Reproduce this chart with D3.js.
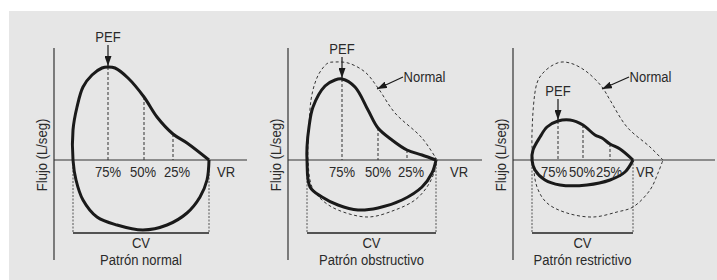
<!DOCTYPE html>
<html>
<head>
<meta charset="utf-8">
<script src="https://cdn.jsdelivr.net/npm/d3@7"></script>
<style>
  body { margin: 0; background: #fff; }
  text { font-family: "Liberation Sans", Arial, sans-serif; fill: #2a2a2a; font-size: 15px; }
</style>
</head>
<body>
<div id="chart"></div>
<script>
// volume (x) / flow (y) loops, start and end at VR
const normalLoop = [
  [7.75, 0], [6.65, 0.85], [5.95, 1.3], [5.15, 2.15], [4.5, 3.15], [3.7, 4.1], [3.05, 4.6],
  [2.7, 4.65], [2.4, 4.6], [1.9, 4.25], [1.45, 3.65], [1.15, 2.65], [0.95, 1.5], [0.95, 0],
  [1.1, -1.0], [1.45, -2.0], [2.15, -2.85], [3.15, -3.25], [4.45, -3.5], [5.65, -3.25],
  [6.65, -2.65], [7.3, -1.85], [7.65, -1.0], [7.75, 0]
];
const obstructiveLoop = [
  [7.4, 0], [6.7, 0.25], [5.95, 0.5], [5.2, 1.0], [4.5, 1.6], [4.0, 2.5], [3.35, 3.65],
  [2.7, 4.05], [2.35, 4.0], [1.85, 3.7], [1.25, 2.65], [1.05, 1.65], [0.95, 0.65], [0.95, 0],
  [1.1, -1.35], [1.7, -1.85], [2.5, -2.25], [3.5, -2.5], [4.5, -2.4], [5.7, -2.0],
  [6.7, -1.35], [7.2, -0.65], [7.4, 0]
];
const obstructiveNormal = [
  [7.45, 0], [6.7, 1.1], [5.35, 2.35], [4.5, 3.6], [3.85, 4.4], [3.0, 4.85], [2.35, 4.9],
  [2.0, 4.85], [1.6, 4.4], [1.35, 3.85], [1.15, 3.0], [1.05, 1.65], [1.0, 0], [1.2, -1.35],
  [1.7, -2.0], [2.5, -2.5], [4.0, -2.85], [5.35, -2.5], [6.35, -2.0], [6.95, -1.35],
  [7.3, -0.65], [7.45, 0]
];
const restrictiveLoop = [
  [6.0, 0], [5.35, 0.55], [4.85, 0.8], [4.45, 1.1], [4.1, 1.25], [3.5, 1.75], [2.85, 2.0],
  [2.25, 1.95], [1.7, 1.65], [1.35, 1.15], [1.0, 0.5], [0.95, 0], [1.1, -0.5], [1.6, -1.0],
  [2.35, -1.25], [3.7, -1.25], [4.85, -1.0], [5.6, -0.6], [6.0, 0]
];
const restrictiveNormal = [
  [7.5, 0], [6.85, 0.65], [5.7, 1.65], [4.85, 3.0], [4.45, 3.65], [3.7, 4.4], [3.0, 4.8],
  [2.45, 4.9], [2.0, 4.75], [1.5, 4.35], [1.2, 3.85], [0.95, 1.35], [1.0, 0], [1.2, -1.35],
  [1.7, -2.15], [2.7, -2.65], [4.0, -2.85], [5.2, -2.6], [6.0, -2.35], [6.85, -1.5],
  [7.25, -0.65], [7.5, 0]
];

const pctLabels = ["75%", "50%", "25%"];
// dashed markers [x, top y] and label x
const normalMarks = [[2.7, 4.65], [4.5, 3.15], [5.95, 1.3]];
const obstructiveMarks = [[2.7, 4.05], [4.5, 1.6], [5.95, 0.5]];
const restrictiveMarks = [[2.25, 1.95], [3.5, 1.75], [4.85, 0.8]];
const normalLabelX = [2.7, 4.45, 6.15];
const obstructiveLabelX = [2.7, 4.5, 6.15];
const restrictiveLabelX = [2.05, 3.45, 4.8];

const titles = ["Patrón normal", "Patrón obstructivo", "Patrón restrictivo"];
const cvBounds = [[0.95, 7.75], [0.95, 7.4], [0.95, 6.0]];
const vrLabelX = [8.6, 8.55, 6.6];
const normalArrow = [null, [5.75, 4.15, 4.45, 3.55], [5.8, 4.15, 4.45, 3.55]];

const yAxisLabel = "Flujo (L/seg)";

const panels = [
  { loop: normalLoop, ref: null, marks: normalMarks, labelX: normalLabelX },
  { loop: obstructiveLoop, ref: obstructiveNormal, marks: obstructiveMarks, labelX: obstructiveLabelX },
  { loop: restrictiveLoop, ref: restrictiveNormal, marks: restrictiveMarks, labelX: restrictiveLabelX }
];

const width = 717, height = 280;
const origins = [54, 288, 513];
const axisEnds = [9.65, 9.7, 10.1];
const squeeze = 0.87; // condensed look

const svg = d3.select("#chart").append("svg")
  .attr("width", width)
  .attr("height", height);

svg.append("rect")
  .attr("x", 9).attr("y", 11)
  .attr("width", width - 9).attr("height", height - 11)
  .attr("fill", "#e6e6e6");

svg.append("defs").append("marker")
  .attr("id", "head")
  .attr("markerUnits", "userSpaceOnUse")
  .attr("viewBox", "0 0 10 7")
  .attr("refX", 10).attr("refY", 3.5)
  .attr("markerWidth", 10).attr("markerHeight", 7)
  .attr("orient", "auto")
  .append("path")
    .attr("d", "M0,0L10,3.5L0,7Z")
    .attr("fill", "#1a1a1a");

function label(g, x, y, str, anchor, rot) {
  return g.append("text")
    .attr("transform", "translate(" + x + "," + y + ")" + (rot ? " rotate(" + rot + ")" : "") + " scale(" + squeeze + ",1)")
    .attr("text-anchor", anchor || "middle")
    .text(str);
}

const y = d3.scaleLinear().domain([-5, 5.6]).range([260, 48]);

panels.forEach(function(p, i) {
  const x = d3.scaleLinear().domain([0, 10]).range([origins[i], origins[i] + 200]);
  const g = svg.append("g");

  const line = d3.line()
    .x(function(d) { return x(d[0]); })
    .y(function(d) { return y(d[1]); })
    .curve(d3.curveCatmullRom.alpha(0.5));

  // axes
  g.append("line")
    .attr("x1", x(0)).attr("x2", x(0))
    .attr("y1", y(5.6)).attr("y2", y(-5))
    .attr("stroke", "#333").style("stroke-width", 1.2);
  g.append("line")
    .attr("x1", x(0)).attr("x2", x(axisEnds[i]))
    .attr("y1", y(0)).attr("y2", y(0))
    .attr("stroke", "#333").style("stroke-width", 1.2);

  label(g, x(0) - 7, y(0.25), yAxisLabel, "middle", -90);

  // CV bracket
  const cv = cvBounds[i];
  cv.forEach(function(v) {
    g.append("line")
      .attr("x1", x(v)).attr("x2", x(v))
      .attr("y1", y(0)).attr("y2", y(-3.65))
      .attr("stroke", "#555").style("stroke-width", 1)
      .style("stroke-dasharray", "2,1.5");
  });
  g.append("line")
    .attr("x1", x(cv[0])).attr("x2", x(cv[1]))
    .attr("y1", y(-3.65)).attr("y2", y(-3.65))
    .attr("stroke", "#222").style("stroke-width", 1.3);
  const mid = (cv[0] + cv[1]) / 2;
  label(g, x(mid), 248, "CV");
  label(g, x(mid), 265, titles[i]);

  // normal reference (dashed)
  if (p.ref) {
    g.append("path")
      .attr("d", line(p.ref))
      .attr("fill", "none")
      .attr("stroke", "#333")
      .style("stroke-width", 1)
      .style("stroke-dasharray", "3,2.5");
  }

  // percent markers
  p.marks.forEach(function(m, k) {
    g.append("line")
      .attr("x1", x(m[0])).attr("x2", x(m[0]))
      .attr("y1", y(m[1])).attr("y2", y(0))
      .attr("stroke", "#333").style("stroke-width", 1)
      .style("stroke-dasharray", "3,2");
    label(g, x(p.labelX[k]), 177, pctLabels[k]);
  });

  label(g, x(vrLabelX[i]), 177, "VR");

  // main loop
  g.append("path")
    .attr("d", line(p.loop))
    .attr("fill", "none")
    .attr("stroke", "#1a1a1a")
    .style("stroke-width", 3)
    .style("stroke-linejoin", "round");

  // PEF arrow at 75% marker
  const pef = p.marks[0];
  g.append("line")
    .attr("x1", x(pef[0])).attr("x2", x(pef[0]))
    .attr("y1", y(pef[1]) - 22).attr("y2", y(pef[1]) - 1)
    .attr("stroke", "#1a1a1a").style("stroke-width", 1.2)
    .attr("marker-end", "url(#head)");
  label(g, x(pef[0]), y(pef[1]) - 25, "PEF");

  // "Normal" pointer
  const na = normalArrow[i];
  if (na) {
    g.append("line")
      .attr("x1", x(na[0])).attr("y1", y(na[1]))
      .attr("x2", x(na[2])).attr("y2", y(na[3]))
      .attr("stroke", "#1a1a1a").style("stroke-width", 1.2)
      .attr("marker-end", "url(#head)");
    label(g, x(na[0]) + 0.5, y(na[1]) + 5, "Normal", "start");
  }
});
</script>
</body>
</html>
